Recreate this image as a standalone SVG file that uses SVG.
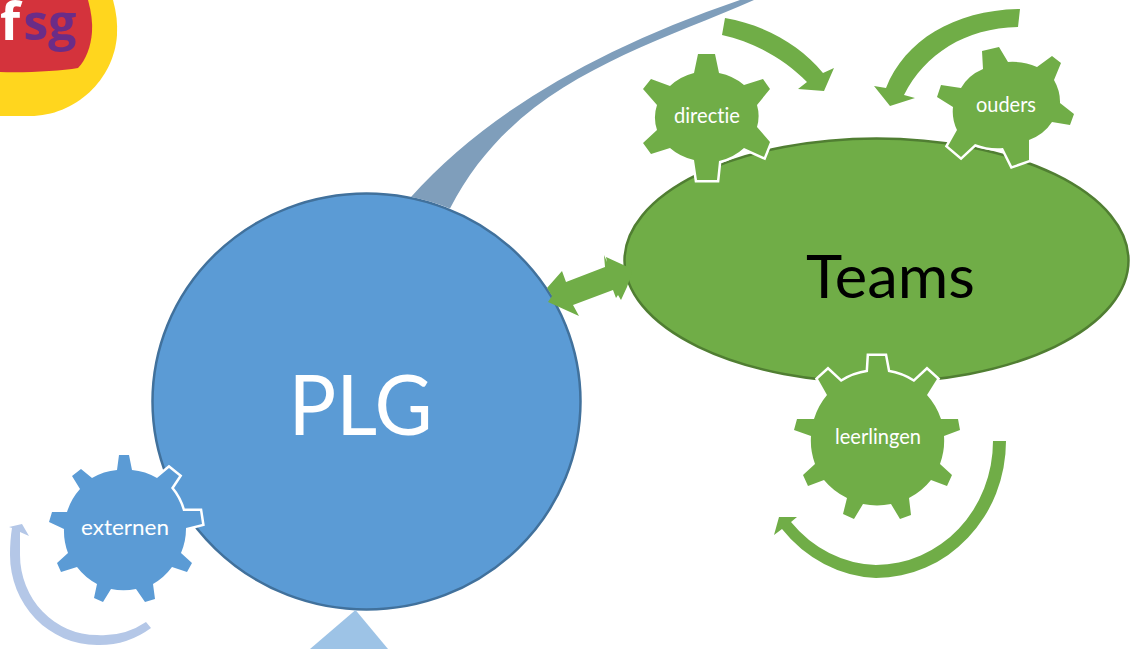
<svg xmlns="http://www.w3.org/2000/svg" width="1134" height="649" viewBox="0 0 1134 649">
<style>
.plg{fill:#5B9BD5;stroke:#41719C;stroke-width:2.5}
.teams{fill:#70AD47;stroke:#507E32;stroke-width:2.5}
.gear{stroke:#fff;stroke-width:5;paint-order:stroke;stroke-linejoin:miter}
.g{fill:#70AD47}
.b{fill:#5B9BD5}
text{font-family:Lato,"Open Sans","Liberation Sans",sans-serif;text-anchor:middle;font-variant-ligatures:none}
.w{fill:#fff}
.small{font-size:22px;fill:#fff}
.logo{font-family:"Open Sans",sans-serif;font-weight:700}
</style>
<rect width="1134" height="649" fill="#fff"/>
<g id="logo">
<path d="M0,0H113Q118,18 117,35C114,80 75,116 30,116H0Z" fill="#FFD61E"/>
<path d="M0,0H88Q93,18 92,32C91,46 86,60 78,68C60,71 25,73 0,72Z" fill="#D4333C"/>
<text class="logo" x="10" y="40" font-size="52" fill="#fff">f</text>
<text class="logo" x="50" y="40" font-size="48" fill="#6B2C87" textLength="53" lengthAdjust="spacingAndGlyphs">sg</text>
</g>
<g id="plg">
<ellipse class="plg" cx="366.5" cy="401.5" rx="214" ry="208"/>
<text x="360.5" y="435" class="w" font-size="83" textLength="144" lengthAdjust="spacingAndGlyphs">PLG</text>
</g>
<g id="triangle"><path d="M355.5,610L310,649H388Z" fill="#9DC3E6"/></g>
<g id="teams">
<ellipse class="teams" cx="876.5" cy="260.5" rx="252" ry="122"/>
<text x="890.5" y="298" fill="#000" font-size="60" textLength="169" lengthAdjust="spacingAndGlyphs">Teams</text>
</g>
<g id="connectors">
<path d="M411,197Q520,75 740,0H754C640,50 515,82 450,208.5A215 209 0 0 0 411,197Z" fill="#7F9EBB"/>
<path d="M725,18C765,25 800,45 823,73L834,68L824,91L798,89L807,82C785,60 755,42 722,35Z" fill="#70AD47"/>
<path d="M1020,9C955,10 905,40 886,88L874,86L890,106L915,98L904,95C925,54 965,28 1018,27Z" fill="#70AD47"/>
<path d="M1006,441A130 137 0 0 1 876,578A130 137 0 0 1 782,529L774,535L779,517H797L791,522A117 124 0 0 0 876,565A117 124 0 0 0 993,441Z" fill="#70AD47"/>
<path d="M151,628A87 87 0 0 1 97,645A87 90 0 0 1 10,555Q10,540 12,528L9,527L22,524L29,536L20,532Q20,545 20,555A77 80 0 0 0 97,635A77 77 0 0 0 146,622Z" fill="#B4C7E7"/>
<path d="M547,288L562,271L566,282L605,267L604,255L607,262L606,257L630,268L632,272L627,287L621,300L618,295L616,298L613,290L573,305L579,316L548,302L552,296Z" fill="#70AD47"/>
</g>
<g id="directie">
<path class="gear g" d="M698,54H715L719,73A52 45 0 0 1 744,85L763,79L770,89L757,105A52 45 0 0 1 757,127L770,142L764,157L744,148A52 45 0 0 1 719,161L717,180H697L694,160A52 45 0 0 1 670,148L651,154L643,143L657,130A52 45 0 0 1 657,105L643,89L651,79L670,86A52 45 0 0 1 694,73Z"/>
<text x="707" y="123" class="small" textLength="66" lengthAdjust="spacingAndGlyphs">directie</text>
</g>
<g id="ouders">
<path class="gear g" d="M982,51L999,47L1008,62A54 46 15 0 1 1037,67L1052,56L1061,63L1054,80A54 46 15 0 1 1060,103L1074,114L1070,125L1052,122A54 46 15 0 1 1029,140V160L1012,166L1003,148A54 46 15 0 1 975,144L961,157L948,146L957,130A54 46 15 0 1 953,107L937,97L941,85L961,88A54 46 15 0 1 983,69Z"/>
<text x="1006" y="112" class="small" textLength="60" lengthAdjust="spacingAndGlyphs">ouders</text>
</g>
<g id="leerlingen">
<path class="gear g" d="M869,356H885L888,372A67 67 0 0 1 914,382L927,370L937,379L927,395A67 67 0 0 1 941,419H958L960,430L944,436A67 67 0 0 1 940,464L952,475L947,486L931,480A67 67 0 0 1 909,498L911,515L900,519L891,504A67 67 0 0 1 863,504L854,519L843,514L847,498A67 67 0 0 1 824,480L808,486L803,475L815,464A67 67 0 0 1 811,436L794,430L797,419H814A67 67 0 0 1 827,395L818,379L828,370L841,382A67 67 0 0 1 868,372Z"/>
<text x="878" y="444" class="small" textLength="86" lengthAdjust="spacingAndGlyphs">leerlingen</text>
</g>
<g id="externen">
<path class="gear b" d="M119,455H129L132,470A61 61 0 0 1 157,478L169,468L179,476L171,488A61 61 0 0 1 183,511H200L202,524L186,528A61 61 0 0 1 181,553L192,563L187,572L172,567A61 61 0 0 1 153,584L155,599L145,602L136,589A61 61 0 0 1 111,589L103,602L94,598L97,584A61 61 0 0 1 77,567L61,572L57,563L68,553A61 61 0 0 1 64,529L49,522L52,512H67A61 61 0 0 1 80,489L72,476L81,469L92,478A61 61 0 0 1 117,470Z"/>
<text x="125" y="535" class="small" textLength="88" lengthAdjust="spacingAndGlyphs">externen</text>
</g>
</svg>
